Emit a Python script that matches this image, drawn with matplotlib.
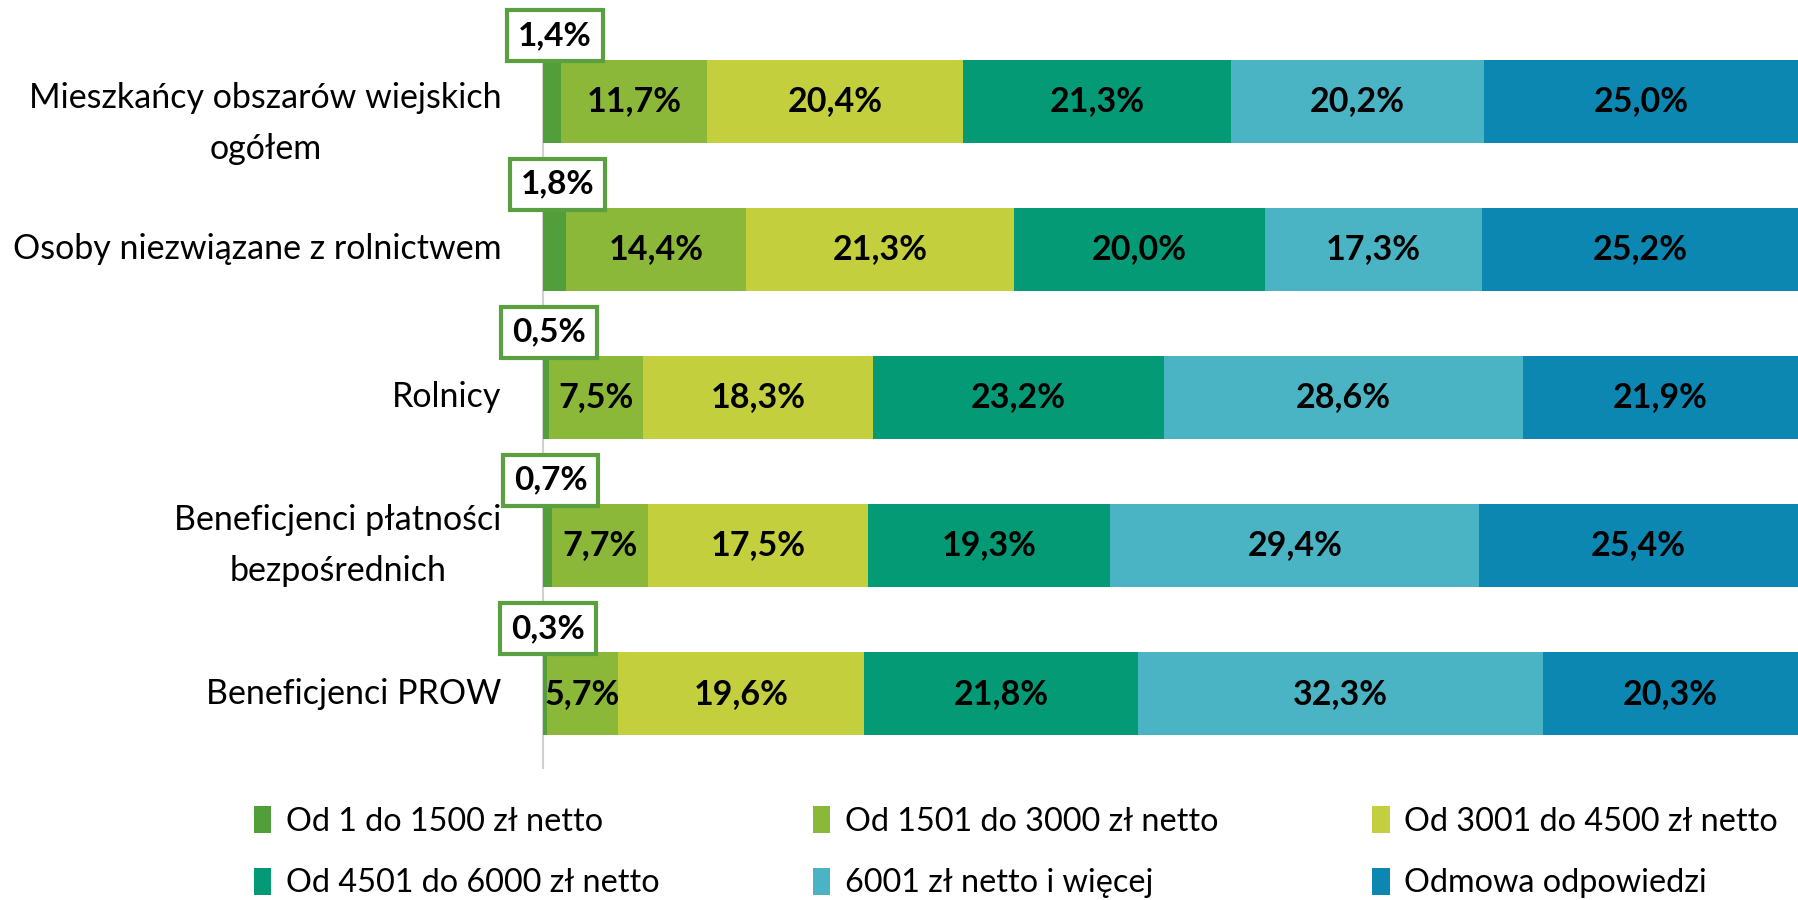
import numpy as np
import matplotlib.pyplot as plt

plt.rcParams['font.family'] = ['Lato', 'DejaVu Sans']

groups = ["Mieszkańcy obszarów wiejskich\nogółem",
          "Osoby niezwiązane z rolnictwem",
          "Rolnicy",
          "Beneficjenci płatności\nbezpośrednich",
          "Beneficjenci PROW"]
series = ["Od 1 do 1500 zł netto", "Od 1501 do 3000 zł netto",
          "Od 3001 do 4500 zł netto", "Od 4501 do 6000 zł netto",
          "6001 zł netto i więcej", "Odmowa odpowiedzi"]
s1 = [1.4, 1.8, 0.5, 0.7, 0.3]
s2 = [11.7, 14.4, 7.5, 7.7, 5.7]
s3 = [20.4, 21.3, 18.3, 17.5, 19.6]
s4 = [21.3, 20.0, 23.2, 19.3, 21.8]
s5 = [20.2, 17.3, 28.6, 29.4, 32.3]
s6 = [25.0, 25.2, 21.9, 25.4, 20.3]
colors = ["#529E3A", "#8BB838", "#C3CF3C", "#049A76", "#4AB4C4", "#0B87B1"]

data = [s1, s2, s3, s4, s5, s6]

fig = plt.figure(figsize=(17.98, 9), dpi=100)
ax = fig.add_axes([0.302, 0.147, 0.698, 0.823])

y = np.arange(len(groups))
left = np.zeros(len(groups))
handles = []
for k, vals in enumerate(data):
    vals = np.array(vals)
    b = ax.barh(y, vals, left=left, height=0.56, color=colors[k], label=series[k])
    handles.append(b)
    for i, v in enumerate(vals):
        txt = "{:.1f}%".format(v).replace(".", ",")
        if k == 0:
            ax.text(left[i] + v / 2 + 0.25, i - 0.44, txt, ha="center", va="center",
                    fontsize=24, fontweight="bold", color="black",
                    bbox=dict(boxstyle="square,pad=0.33", fc="white", ec="#5AA040", lw=3))
        else:
            ax.text(left[i] + v / 2, i, txt, ha="center", va="center",
                    fontsize=24.5, fontweight="bold", color="black")
    left += vals

ax.set_xlim(0, 100)
ax.set_ylim(4.5, -0.5)
ax.set_yticks([])
ax.set_xticks([])
for i, g in enumerate(groups):
    yy = i + 0.15 if i == 0 else i
    ax.text(-0.033, yy, g, transform=ax.get_yaxis_transform(), ha="right", va="center",
            multialignment="center", fontsize=24.5, linespacing=1.75)
for s in ["top", "right", "bottom"]:
    ax.spines[s].set_visible(False)
ax.spines["left"].set_color("#D0D0D0")
ax.spines["left"].set_linewidth(1.5)
ax.spines["left"].set_zorder(0)

xs = [0.141, 0.452, 0.763]
for c in range(3):
    fig.legend([handles[c], handles[c + 3]], [series[c], series[c + 3]],
               loc="upper left", bbox_to_anchor=(xs[c], 0.104), frameon=False,
               fontsize=23.3, handlelength=0.55, handleheight=0.9, handletextpad=0.45,
               labelspacing=0.95, borderpad=0, borderaxespad=0)

fig.savefig("out.png", dpi=100)
